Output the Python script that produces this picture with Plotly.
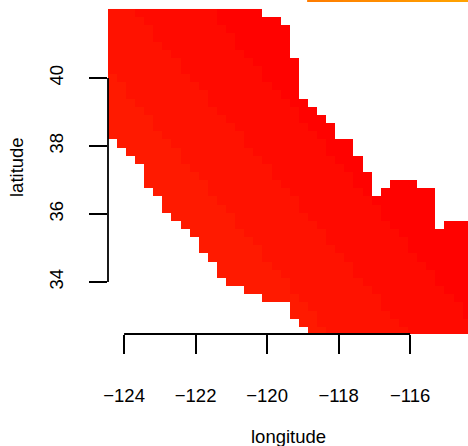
import plotly.graph_objects as go

# Grid (40 x 40 cells, row 0 at the top)
LON_FIRST = -124.33
LON_STEP = 0.2543
LAT_TOP = 41.91
LAT_STEP = 0.2394
N_COLS = 40
N_ROWS = 40

# Visible column spans per row (start, end-exclusive)
row_spans = [
    [(0, 17)], [(0, 19)], [(0, 20)], [(0, 20)], [(0, 20)], [(0, 20)],
    [(0, 21)], [(0, 21)], [(0, 21)], [(0, 21)], [(0, 21)],
    [(0, 22)], [(0, 23)], [(0, 24)], [(0, 25)], [(0, 25)],
    [(1, 27)], [(2, 27)], [(3, 28)], [(4, 28)],
    [(4, 29)], [(4, 29), (31, 34)], [(5, 29), (30, 36)],
    [(6, 36)], [(6, 36)], [(7, 36)], [(8, 36), (37, 40)],
    [(9, 40)], [(10, 40)], [(10, 40)], [(11, 40)], [(12, 40)], [(12, 40)],
    [(13, 40)], [(15, 40)], [(17, 40)], [(20, 40)], [(20, 40)], [(21, 40)], [(22, 40)],
]
# Column where each colour band ends, per row
edge_low = [0, 0, 0, 0, 0, 0, 0, 0, 1, 2, 2, 3, 4, 5, 5, 6, 7, 8, 8, 9, 10, 11, 11, 12,
            13, 14, 14, 15, 16, 17, 17, 18, 19, 20, 20, 21, 22, 23, 23, 24]
edge_mid = [3, 4, 5, 5, 6, 7, 8, 8, 9, 10, 11, 11, 12, 13, 14, 15, 15, 16, 17, 18, 18, 19, 20, 21,
            21, 22, 23, 24, 24, 25, 26, 27, 27, 28, 29, 30, 30, 31, 32, 33]
edge_high = [12, 12, 13, 14, 14, 15, 16, 17, 17, 18, 19, 20, 21, 21, 22, 23, 24, 24, 25, 26,
             27, 27, 28, 29, 30, 30, 31, 32, 33, 33, 34, 35, 36, 36, 37, 38, 39, 39, 40, 40]
band_colors = ["#ff1a00", "#ff1200", "#ff0a00", "#ff0200"]

# Strip of the neighbouring panel along the top edge
strip_lon_edges = [-118.88, -118.63, -118.38, -118.13, -117.88, -117.63, -117.38, -117.13, -116.88,
                   -116.63, -116.38, -116.13, -115.88, -115.63, -115.38, -115.13, -114.88, -114.63, -114.38]
strip_lat_edges = [42.235, 42.294]
strip_vals = [0.02, 0.08, 0.13, 0.19, 0.25, 0.3, 0.36, 0.41, 0.47, 0.52, 0.58, 0.63, 0.69, 0.75, 0.8, 0.86, 0.92, 0.98]

x_ticks = [-124, -122, -120, -118, -116]
y_ticks = [34, 36, 38, 40]
x_title = "longitude"
y_title = "latitude"

z = []
for r in range(N_ROWS):
    row = [None] * N_COLS
    for a, b in row_spans[r]:
        for c in range(a, b):
            if c < edge_low[r]:
                row[c] = 0.5
            elif c < edge_mid[r]:
                row[c] = 1.5
            elif c < edge_high[r]:
                row[c] = 2.5
            else:
                row[c] = 3.5
    z.append(row)

lons = [LON_FIRST + LON_STEP * c for c in range(N_COLS)]
lats = [LAT_TOP - LAT_STEP * r for r in range(N_ROWS)]

n = len(band_colors)
cs = []
for i, col in enumerate(band_colors):
    cs += [[i / n, col], [(i + 1) / n, col]]

fig = go.Figure()
fig.add_trace(go.Heatmap(z=z[::-1], x=lons, y=lats[::-1], zmin=0, zmax=4, zsmooth=False,
                         colorscale=cs, showscale=False, hoverinfo="skip"))
fig.add_trace(go.Heatmap(z=[strip_vals], x=strip_lon_edges, y=strip_lat_edges, zmin=0, zmax=1, zsmooth=False,
                         colorscale=[[0, "#ff7c00"], [1, "#ffa300"]], showscale=False, hoverinfo="skip"))

black = dict(color="black", width=1.8)
fig.add_shape(type="line", xref="x", yref="paper", x0=x_ticks[0], x1=x_ticks[-1], y0=0, y1=0, line=black)
fig.add_shape(type="line", xref="paper", yref="y", x0=0, x1=0, y0=y_ticks[0], y1=y_ticks[-1], line=black)

font = dict(family="Liberation Sans, Arial, sans-serif", size=18.5, color="black")
fig.update_xaxes(range=[-124.45, -114.38], tickmode="array", tickvals=x_ticks,
                 ticktext=[f"\u2212{abs(v)}" for v in x_ticks], ticks="outside", ticklen=19, tickwidth=1.8,
                 tickcolor="black", showgrid=False, zeroline=False, showline=False, tickfont=font,
                 ticklabelstandoff=26)
fig.update_yaxes(range=[32.47, 42.294], tickmode="array", tickvals=y_ticks,
                 ticktext=[str(v) for v in y_ticks], ticks="outside", ticklen=18, tickwidth=1.8,
                 tickcolor="black", showgrid=False, zeroline=False, showline=False, tickfont=font,
                 tickangle=-90, ticklabelstandoff=19)
fig.update_layout(width=468, height=446, margin=dict(l=108, r=0, t=0, b=112),
                  paper_bgcolor="white", plot_bgcolor="white", showlegend=False,
                  annotations=[
                      dict(text=x_title, xref="paper", yref="paper", x=0.5, y=0, yshift=-102,
                           showarrow=False, font=font, yanchor="middle"),
                      dict(text=y_title, xref="paper", yref="paper", x=0, y=0.5, xshift=-92, textangle=-90,
                           showarrow=False, font=font, xanchor="center", yanchor="middle"),
                  ])
fig.write_html("out.html", post_script="document.body.style.margin='0';", config={"displayModeBar": False})
